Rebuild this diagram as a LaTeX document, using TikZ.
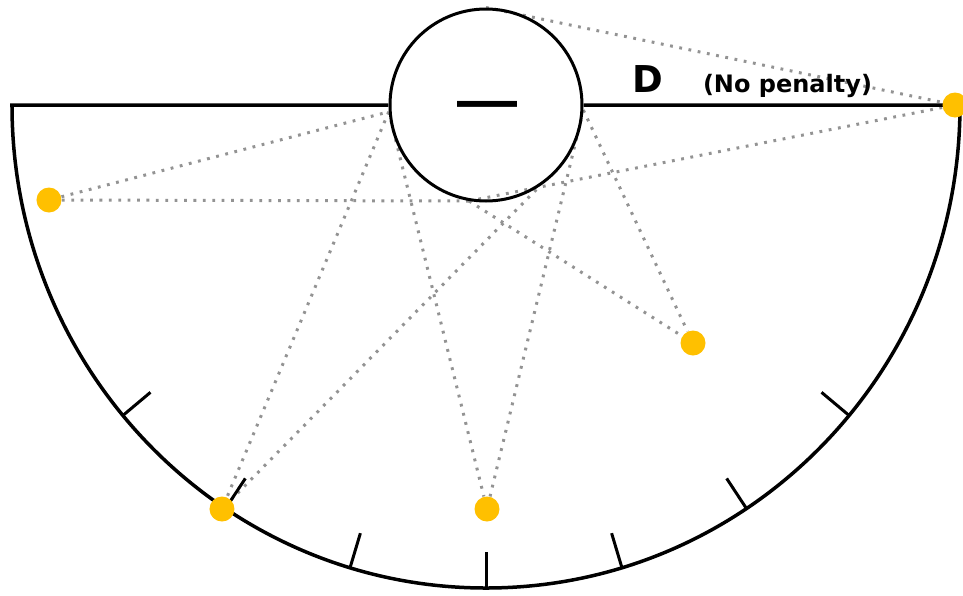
\documentclass[tikz,border=0pt]{standalone}
\usepackage{fontspec}
\newfontfamily\lblfont{DejaVu Sans}
\newfontfamily\dashfont{Liberation Sans}
\usepackage{tikz}
\usetikzlibrary{backgrounds}
\definecolor{spotgold}{RGB}{255,192,0}
\tikzset{
  rimln/.style={line width=1.75pt, line join=miter},
  tickln/.style={line width=1.5pt},
  hitln/.style={draw=gray!85, line width=1.5pt, dash pattern=on 1.4pt off 3.3pt},
  spot/.style={circle, fill=spotgold, inner sep=0pt, minimum size=12.5pt},
  ball/.style={circle, draw, line width=1.5pt, inner sep=0pt, minimum size=96pt},
}

\begin{document}
\begin{tikzpicture}[x=0.5pt, y=0.5pt]
    \useasboundingbox (-486,-490) rectangle (477,105);
    % ball and rim
    \node[ball] (ball) at (0,0) {};
    \node[font=\dashfont\bfseries\fontsize{30}{30}\selectfont, anchor=base, inner sep=0pt] (minus) at (1,-15) {—};
    \draw[rimln] (ball.west) -- (-474,0) arc[start angle=180, end angle=360, x radius=474, y radius=483] -- (ball.east);
    \foreach \k in {-3,...,3}
      \draw[tickln] ({474*cos(-90+\k*50/3)},{483*sin(-90+\k*50/3)}) -- ({438*cos(-90+\k*50/3)},{447*sin(-90+\k*50/3)});
    % labels
    \node[font=\lblfont\bfseries\fontsize{18.5}{20}\selectfont, anchor=base, inner sep=0pt] (dlab) at (161.5,13) {D};
    \node[font=\lblfont\bfseries\fontsize{12}{14}\selectfont, anchor=base, inner sep=0pt] (npen) at (301.5,13) {(No penalty)};
    % players
    \node[spot] (pl) at (-437,-95) {};
    \node[spot] (pr) at (469,0) {};
    \node[spot] (pq) at (207,-238) {};
    \node[spot] (pbl) at (-264,-404) {};
    \node[spot] (pb) at (1,-404) {};
    % shots off the ball
    \begin{scope}[on background layer]
      \draw[hitln] (ball.90) -- (pr);
      \draw[hitln] (pl) -- (ball.184);
      \draw[hitln] (pl) -- (ball.-100);
      \draw[hitln] (ball.-100) -- (pr);
      \draw[hitln] (ball.-100) -- (pq);
      \draw[hitln] (ball.184) -- (pbl);
      \draw[hitln] (ball.184) -- (pb);
      \draw[hitln] (ball.-3) -- (pq);
      \draw[hitln] (ball.-3) -- (pb);
      \draw[hitln] (pbl) -- (ball.-57);
    \end{scope}
  \end{tikzpicture}
\end{document}
